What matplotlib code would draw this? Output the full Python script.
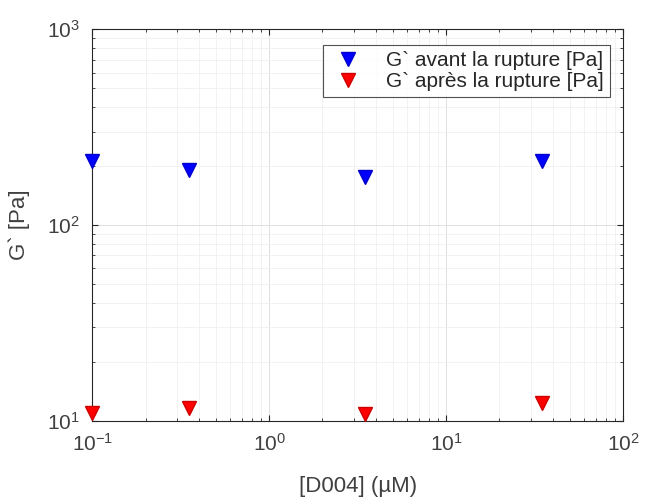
import matplotlib
matplotlib.use("Agg")
import matplotlib.pyplot as plt
from matplotlib.ticker import LogLocator, NullFormatter

plt.rcParams['font.family'] = ['Liberation Sans', 'DejaVu Sans']

conc = [0.1, 0.35, 3.5, 35]
g_avant = [212, 190, 175, 212]
g_apres = [11.0, 11.6, 10.9, 12.4]
label_avant = "G` avant la rupture [Pa]"
label_apres = "G` après la rupture [Pa]"

fig = plt.figure(figsize=(6.45, 5.04), dpi=100)
ax = fig.add_axes([0.143, 0.165, 0.823, 0.777])

ax.plot(conc, g_avant, linestyle='none', marker='v', markersize=10,
        color='#0000ff', markeredgecolor='#0000cc', label=label_avant, clip_on=False, zorder=5)
ax.plot(conc, g_apres, linestyle='none', marker='v', markersize=10,
        color='#ff0000', markeredgecolor='#cc0000', label=label_apres, clip_on=False, zorder=5)

ax.set_xscale('log')
ax.set_yscale('log')
ax.set_xlim(0.1, 100)
ax.set_ylim(10, 1000)

ax.xaxis.set_major_locator(LogLocator(base=10, numticks=10))
ax.yaxis.set_major_locator(LogLocator(base=10, numticks=10))
ax.xaxis.set_minor_locator(LogLocator(base=10, subs=range(2, 10), numticks=20))
ax.yaxis.set_minor_locator(LogLocator(base=10, subs=range(2, 10), numticks=20))
ax.xaxis.set_minor_formatter(NullFormatter())
ax.yaxis.set_minor_formatter(NullFormatter())

ax.grid(True, which='major', color='#e0e0e0', linewidth=0.7)
ax.grid(True, which='minor', color='#f0f0f0', linewidth=0.6)
ax.set_axisbelow(True)

ax.tick_params(which='both', direction='in', top=True, right=True,
               colors='#262626', labelcolor='#404040')
ax.tick_params(which='major', length=4, labelsize=15, pad=9)
ax.tick_params(which='minor', length=2)
for s in ax.spines.values():
    s.set_color('#262626')
    s.set_linewidth(0.8)

ax.set_xlabel('[D004] (µM)', fontsize=16, color='#404040', labelpad=15)
ax.set_ylabel('G` [Pa]', fontsize=16, color='#404040', labelpad=12)

leg = ax.legend(loc='upper right', bbox_to_anchor=(0.975, 0.96), fontsize=15,
                frameon=True, fancybox=False, edgecolor='#262626',
                handletextpad=0.9, borderpad=0.3, labelspacing=0.1,
                handlelength=1.8, borderaxespad=0)
leg.get_frame().set_linewidth(0.8)
for t in leg.get_texts():
    t.set_color('#262626')

fig.savefig('out.png', dpi=100, facecolor='white')
